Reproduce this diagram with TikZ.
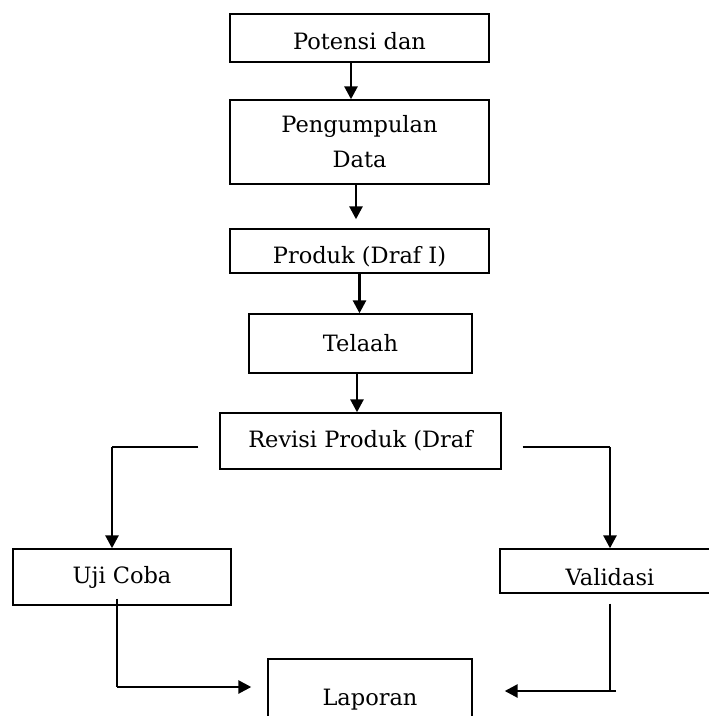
\documentclass[tikz,border=0pt]{standalone}
\usepackage{fontspec}
\setmainfont{DejaVu Serif}
\usetikzlibrary{arrows.meta}
\newcommand{\lowertext}[2]{\raisebox{-#1}[\height][\depth]{#2}}
\begin{document}
\begin{tikzpicture}[x=1pt,y=-1pt,
  box/.style={draw=black,line width=1.4pt,rectangle,inner sep=0pt,align=center,
    font=\fontsize{22.5}{35}\selectfont},
  arr/.style={draw=black,line width=2.7pt,-{Triangle[length=13pt,width=13pt]}},
  thinl/.style={draw=black,line width=1.3pt}]
\useasboundingbox (0,0) rectangle (709,716);
\node[box,minimum width=259pt,minimum height=48pt] (b1) at (359.5,38) {\lowertext{3pt}{Potensi dan}};
\node[box,minimum width=259pt,minimum height=84pt] (b2) at (359.5,142) {Pengumpulan\\Data};
\node[box,minimum width=259pt,minimum height=44pt] (b3) at (359.5,251) {\lowertext{6pt}{Produk (Draf I)}};
\node[box,minimum width=223pt,minimum height=59pt] (b4) at (360.5,343.5) {Telaah};
\node[box,minimum width=281pt,minimum height=56pt] (b5) at (360.5,441) {Revisi Produk (Draf};
\node[box,minimum width=218pt,minimum height=56pt] (uji) at (122,577) {Uji Coba};
\node[box,minimum width=220pt,minimum height=44pt] (val) at (610,571) {\lowertext{6pt}{Validasi}};
\node[box,minimum width=204pt,minimum height=82pt] (lap) at (370,700) {Laporan};
% vertical chain
\draw[arr] ([xshift=-8.5pt]b1.south) -- ([xshift=-8.5pt]b1.south |- b2.north);
\coordinate (a2e) at ([xshift=-3.5pt,yshift=9pt]b3.north);
\draw[arr] ([xshift=-3.5pt]b2.south) -- (a2e);
\draw[arr] (b3.south) -- (b3.south |- b4.north);
\draw[arr] ([xshift=-3.5pt]b4.south) -- ([xshift=-3.5pt]b4.south |- b5.north);
% branches
\coordinate (lk) at (112,447);
\coordinate (rk) at (610,447);
\draw[thinl] ([xshift=-21pt,yshift=-6pt]b5.west) -- (lk);
\draw[arr] (lk) -- (lk |- uji.north);
\draw[thinl] ([xshift=21pt,yshift=-6pt]b5.east) -- (rk);
\draw[arr] (rk) -- (rk |- val.north);
% to report
\coordinate (lb) at (117,687);
\coordinate (rb) at (610,691);
\draw[thinl] ([xshift=-5pt,yshift=7pt]uji.south) -- (lb);
\draw[arr] (lb) -- ([xshift=-16pt]lap.west |- lb);
\draw[thinl] ([yshift=-10pt]val.south) -- (rb);
\draw[arr] ([xshift=6pt]rb) -- ([xshift=32pt]lap.east |- rb);
\end{tikzpicture}
\end{document}
